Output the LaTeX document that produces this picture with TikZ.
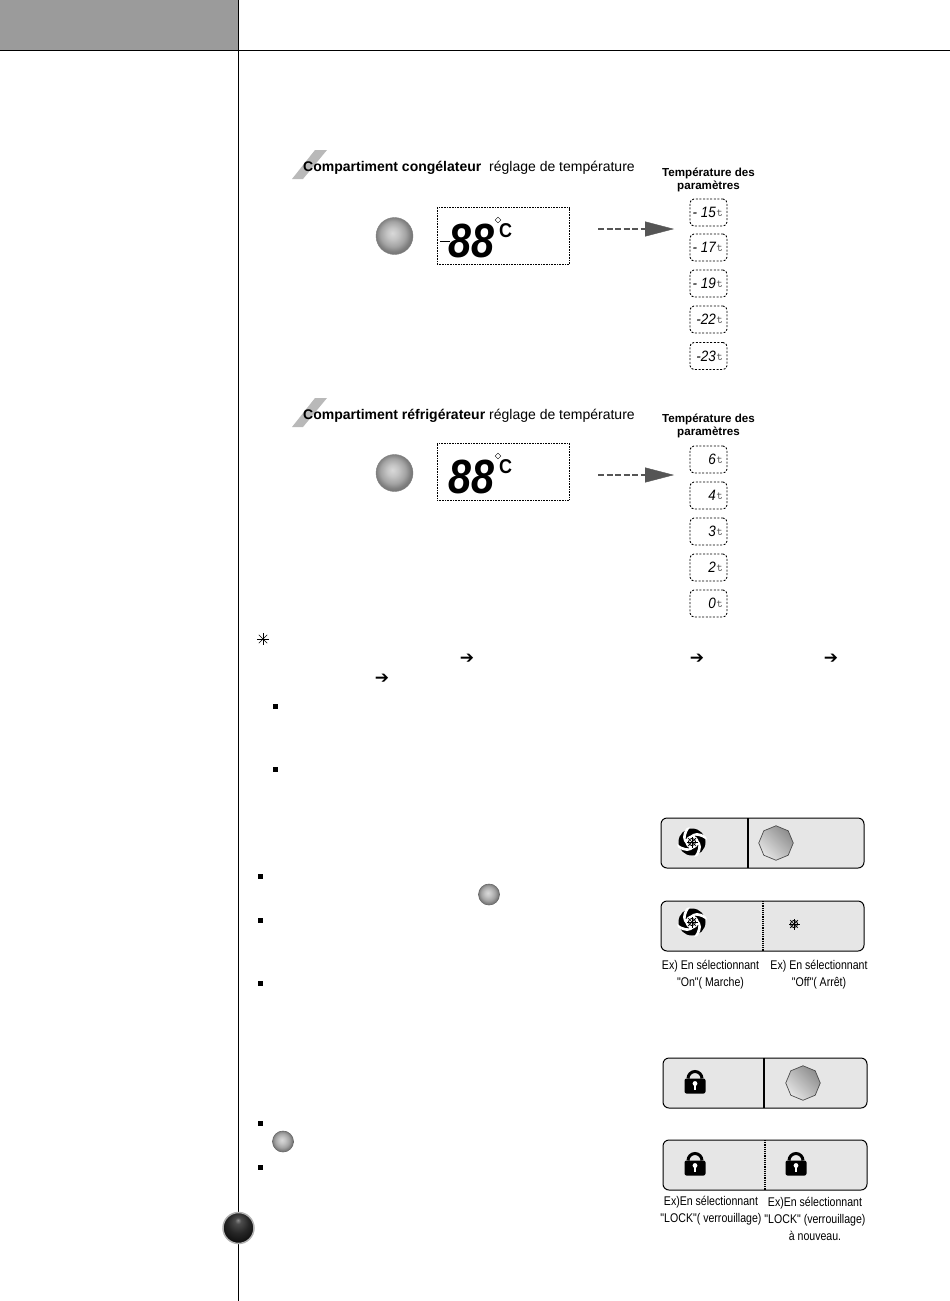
\documentclass[tikz,border=0pt]{standalone}
\usepackage{fontspec}
\setmainfont{Liberation Sans}
\newfontfamily\capfont{Liberation Sans}
\newfontfamily\arrowfont{DejaVu Sans}
\usetikzlibrary{arrows.meta,shapes.geometric,calc}
\definecolor{headgrey}{RGB}{155,155,155}
\definecolor{slashgrey}{RGB}{185,185,185}
\definecolor{panelgrey}{RGB}{230,230,230}
\definecolor{arrowgrey}{RGB}{85,85,85}
\pgfdeclareradialshading{softball}{\pgfpoint{-3bp}{4bp}}{color(0bp)=(black!15); color(8bp)=(black!23);
  color(17bp)=(black!36); color(23bp)=(black!50); color(30bp)=(black!58); color(50bp)=(black!58)}
\pgfdeclareradialshading{blackball}{\pgfpoint{-1bp}{13bp}}{color(0bp)=(black!45); color(5bp)=(black!70);
  color(17bp)=(black!85); color(30bp)=(black!95); color(50bp)=(black)}
\tikzset{
  rule/.style={draw=black,line width=1pt},
  headbold/.style={anchor=west,inner sep=0pt,font=\fontsize{14}{15}\selectfont\bfseries},
  headplain/.style={anchor=west,inner sep=0pt,font=\fontsize{14}{15}\selectfont},
  paramhead/.style={align=center,inner sep=0pt,font=\fontsize{11.6}{13}\selectfont\bfseries},
  lcdbox/.style={draw=black,densely dotted,line width=.6pt,minimum width=132pt,minimum height=57pt,inner sep=0pt},
  lcdbig/.style={inner sep=0pt,xscale=.86,transform shape,font=\fontsize{48}{48}\selectfont\bfseries\itshape},
  lcddeg/.style={inner sep=0pt,xscale=.9,transform shape,font=\fontsize{20}{20}\selectfont\bfseries},
  lcdmark/.style={diamond,draw=black,line width=.4pt,minimum size=6pt,inner sep=0pt},
  valbox/.style={draw=black,dash pattern=on 2pt off 1.6pt,line width=.9pt,rounded corners=4pt,
    minimum width=37pt,minimum height=27pt,inner sep=0pt},
  valtext/.style={inner sep=0pt,anchor=east,xscale=.9,transform shape,font=\fontsize{15}{15}\selectfont\itshape},
  unittext/.style={inner sep=0pt,anchor=west,text=black!70,font=\fontsize{12}{12}\selectfont\ttfamily},
  ballbig/.style={circle,draw=black!50,line width=.4pt,inner sep=0pt,shading=softball,minimum size=37pt},
  ballsmall/.style={circle,draw=black!60,line width=.6pt,inner sep=0pt,shading=softball,minimum size=21pt},
  ballblack/.style={circle,draw=black!30,line width=1.5pt,inner sep=0pt,shading=blackball,minimum size=31pt},
  octbtn/.style={regular polygon,regular polygon sides=8,regular polygon rotate=22.5,draw=black!70,line width=.7pt,
    inner sep=0pt,minimum size=34.5pt,shading=axis,top color=black!45,bottom color=black!10,shading angle=-45},
  panel/.style={draw=black,line width=1pt,rounded corners=6pt,fill=panelgrey,inner sep=0pt,minimum height=50pt},
  capline/.style={align=center,inner sep=0pt,xscale=.84,transform shape,font=\capfont\fontsize{12.6}{17}\selectfont},
  dashlink/.style={draw=arrowgrey,line width=1.5pt,dash pattern=on 6pt off 2.5pt},
  headtip/.style={-{Triangle[length=29pt,width=15pt]},draw=arrowgrey,fill=arrowgrey},
  txtarrow/.style={inner sep=0pt,font=\fontsize{17}{17}\selectfont\arrowfont\bfseries},
  sqmark/.style={fill=black,inner sep=0pt,minimum size=5pt},
  swirl/.pic={
    \fill[black] (0,0) circle (13.5pt);
    \foreach \a in {20,110,200,290}{
      \fill[white] (\a:15pt) .. controls (\a+35:13pt) and (\a+60:10pt) .. (\a+95:6pt)
        -- (\a+60:6pt) .. controls (\a+40:8pt) and (\a+15:11pt) .. (\a-12:15pt) -- cycle;}
    \fill[white] (0,0) circle (6.5pt);
    \pic {flake};
  },
  flake/.pic={
    \draw[black,line width=.9pt] (0,0) circle (3.6pt);
    \foreach \a in {0,45,...,315}{\draw[black,line width=.7pt] (0,0) -- (\a:5.5pt);}
  },
  lock/.pic={
    \fill[black,rounded corners=2pt] (-10.5,-3.5) rectangle (10.5,11.5);
    \draw[black,line width=3pt] (-7,-3.5) arc[start angle=180,end angle=0,radius=7pt];
    \fill[white] (0,1.5) circle (2.4pt);
    \fill[white] (-1.2,1.5) rectangle (1.2,7.5);
  },
}
\begin{document}
\begin{tikzpicture}[x=1pt,y=-1pt]
  \useasboundingbox (0,0) rectangle (950,1301);
  % page frame
  \fill[headgrey] (0,0) rectangle (238,50);
  \draw[rule] (0,50.5) -- (950,50.5);
  \draw[rule] (238.5,0) -- (238.5,1301);
  \node[ballblack] (ballpage) at (238.5,1228) {};

  % freezer block
  \fill[slashgrey] (292,179) -- (303,179) -- (327,150) -- (315,150) -- cycle;
  \node[headbold]  (freezhead) at (303,167.5) {Compartiment congélateur};
  \node[headplain] (freezsub)  at (489,167.5) {réglage de température};
  \node[paramhead] (freezparam) at (708.5,180) {Température des\\paramètres};
  \node[ballbig] (freezball) at (394.5,236) {};
  \node[lcdbox] (freezlcd) at (503,236) {};
  \node[lcdbig] (freezdig) at (471.5,240.5) {88};
  \draw[line width=1pt] (440,241) -- (450,241);
  \node[lcdmark] (freezmark) at (498,220) {};
  \node[lcddeg]  (freezdeg)  at (505.5,231) {C};
  \coordinate (freezfrom) at (598,229);
  \coordinate (freezmid)  at (645,229);
  \coordinate (freezto)   at (674,229);
  \draw[dashlink] (freezfrom) -- (freezmid);
  \draw[headtip] (freezmid) -- (freezto);
  \foreach \n/\y/\v in {a/212.5/- 15,b/247.5/- 17,c/283.5/- 19,d/319.5/-22,e/356/-23}{
    \node[valbox] (val\n) at (708.5,\y) {};
    \node[valtext] (valnum\n) at (716,\y) {\v};
    \node[unittext] (valunit\n) at (716.5,\y+1) {t};
  }

  % fridge block
  \fill[slashgrey] (292,427) -- (303,427) -- (327,398) -- (315,398) -- cycle;
  \node[headbold]  (fridghead) at (303,415.5) {Compartiment réfrigérateur};
  \node[headplain] (fridgsub)  at (489,415.5) {réglage de température};
  \node[paramhead] (fridgparam) at (708.5,426) {Température des\\paramètres};
  \node[ballbig] (fridgball) at (394.5,473) {};
  \node[lcdbox] (fridglcd) at (503,471.5) {};
  \node[lcdbig] (fridgdig) at (471.5,476.5) {88};
  \node[lcdmark] (fridgmark) at (498,456) {};
  \node[lcddeg]  (fridgdeg)  at (505.5,467) {C};
  \coordinate (fridgfrom) at (598,475);
  \coordinate (fridgmid)  at (645,475);
  \coordinate (fridgto)   at (674,475);
  \draw[dashlink] (fridgfrom) -- (fridgmid);
  \draw[headtip] (fridgmid) -- (fridgto);
  \foreach \n/\y/\v in {a/459.5/6,b/495.5/4,c/531.5/3,d/567.5/2,e/603.5/0}{
    \node[valbox] (rval\n) at (708.5,\y) {};
    \node[valtext] (rvalnum\n) at (716,\y) {\v};
    \node[unittext] (rvalunit\n) at (716.5,\y+1) {t};
  }

  % loose marks of the notes
  \foreach \a in {0,45,90,135}{\draw[black,line width=.4pt] (263,639) ++(\a:6pt) -- ++(\a+180:12pt);}
  \node[txtarrow] (arra) at (467,659) {➔};
  \node[txtarrow] (arrb) at (697,659) {➔};
  \node[txtarrow] (arrc) at (831,659) {➔};
  \node[txtarrow] (arrd) at (382,679) {➔};
  \foreach \n/\x/\y in {a/275/706,b/275/769,c/260/876,d/260/920,e/260/983,f/260/1123,g/260/1167}{
    \node[sqmark] (sq\n) at (\x,\y) {};
  }
  \node[ballsmall] (inlinea) at (489,894.5) {};
  \node[ballsmall] (inlineb) at (283,1141.5) {};

  % fan panels
  \node[panel,minimum width=203pt] (fanon)  at (762.5,843) {};
  \draw[black,line width=1.2pt] (748,818) -- (748,868);
  \pic at (692,842) {swirl};
  \node[octbtn] (fanbtn) at (776,843) {};
  \node[panel,minimum width=203pt] (fanoff) at (762.5,926) {};
  \draw[black,line width=1.2pt,densely dotted] (763,901) -- (763,951);
  \pic at (692,922) {swirl};
  \pic at (794,924) {flake};
  \node[capline] (capon)  at (710.5,975) {Ex) En sélectionnant\\"On"( Marche)};
  \node[capline] (capoff) at (819,975) {Ex) En sélectionnant\\"Off"( Arrêt)};

  % lock panels
  \node[panel,minimum width=204pt] (lockon)  at (765,1083) {};
  \draw[black,line width=1.2pt] (764,1058) -- (764,1108);
  \pic at (695,1082) {lock};
  \node[octbtn] (lockbtn) at (803,1083) {};
  \node[panel,minimum width=204pt] (lockoff) at (765,1165) {};
  \draw[black,line width=1.2pt,densely dotted] (765,1140) -- (765,1190);
  \pic at (695,1164) {lock};
  \pic at (796,1164) {lock};
  \node[capline] (capla) at (711,1210.5) {Ex)En sélectionnant\\"LOCK"( verrouillage)};
  \node[capline] (caplb) at (815,1219) {Ex)En sélectionnant\\"LOCK" (verrouillage)\\à nouveau.};
\end{tikzpicture}
\end{document}
